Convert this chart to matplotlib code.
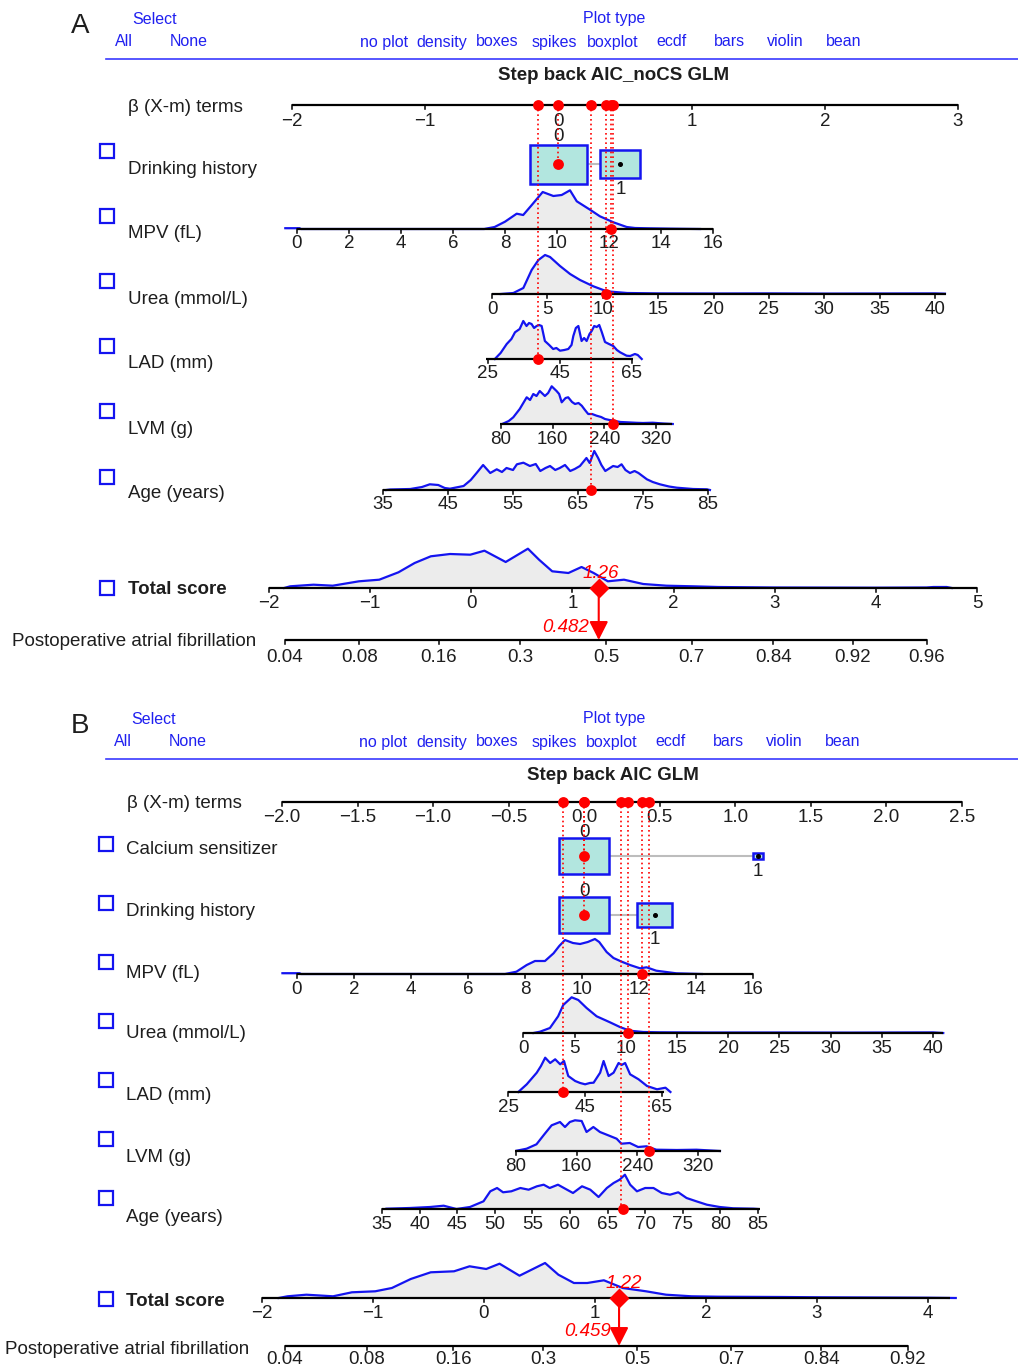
import numpy as np
import matplotlib
matplotlib.use('Agg')
import matplotlib.pyplot as plt
from matplotlib.patches import Rectangle

plt.rcParams['font.family'] = ['Liberation Sans', 'DejaVu Sans']

# ------------------------------------------------------------------ data
panel_letters = ['A', 'B']
titles = ['Step back AIC_noCS GLM', 'Step back AIC GLM']
select_opts = ['All', 'None']
plot_types = ['no plot', 'density', 'boxes', 'spikes', 'boxplot', 'ecdf', 'bars', 'violin', 'bean']
outcome = 'Postoperative atrial fibrillation'
beta_label = '\u03b2 (X-m) terms'

vars_a = ['Drinking history', 'MPV (fL)', 'Urea (mmol/L)', 'LAD (mm)', 'LVM (g)', 'Age (years)']
vars_b = ['Calcium sensitizer', 'Drinking history', 'MPV (fL)', 'Urea (mmol/L)', 'LAD (mm)', 'LVM (g)', 'Age (years)']

beta_ticks_a = [-2, -1, 0, 1, 2, 3]
beta_ticks_b = [-2.0, -1.5, -1.0, -0.5, 0.0, 0.5, 1.0, 1.5, 2.0, 2.5]
mpv_ticks = [0, 2, 4, 6, 8, 10, 12, 14, 16]
urea_ticks = [0, 5, 10, 15, 20, 25, 30, 35, 40]
lad_ticks = [25, 45, 65]
lvm_ticks = [80, 160, 240, 320]
age_ticks_a = [35, 45, 55, 65, 75, 85]
age_ticks_b = [35, 40, 45, 50, 55, 60, 65, 70, 75, 80, 85]
total_ticks_a = [-2, -1, 0, 1, 2, 3, 4, 5]
total_ticks_b = [-2, -1, 0, 1, 2, 3, 4]
prob_ticks_a = [0.04, 0.08, 0.16, 0.3, 0.5, 0.7, 0.84, 0.92, 0.96]
prob_ticks_b = [0.04, 0.08, 0.16, 0.3, 0.5, 0.7, 0.84, 0.92]

# beta (X-m) contributions of the selected patient
beta_a = {'Drinking history': 0.0, 'MPV (fL)': 0.398, 'Urea (mmol/L)': 0.360,
          'LAD (mm)': -0.150, 'LVM (g)': 0.413, 'Age (years)': 0.248}
beta_b = {'Calcium sensitizer': 0.0, 'Drinking history': 0.0, 'MPV (fL)': 0.382,
          'Urea (mmol/L)': 0.293, 'LAD (mm)': -0.141, 'LVM (g)': 0.430, 'Age (years)': 0.245}
# observed values
obs_a = {'MPV (fL)': 12.08, 'Urea (mmol/L)': 10.3, 'LAD (mm)': 38.9, 'LVM (g)': 253, 'Age (years)': 67.0}
obs_b = {'MPV (fL)': 12.11, 'Urea (mmol/L)': 10.2, 'LAD (mm)': 39.3, 'LVM (g)': 255, 'Age (years)': 67.0}
total_a, prob_a = 1.26, 0.482
total_b, prob_b = 1.22, 0.459

# categorical variables: beta of categories and frequencies
drink_beta_a = [0.0, 0.465]
drink_freq_a = [0.67, 0.33]
cs_beta_b = [0.0, 1.149]
cs_freq_b = [0.965, 0.035]
drink_beta_b = [0.0, 0.467]
drink_freq_b = [0.675, 0.325]

# densities (value, relative height)
mpv_a = [(-0.45, 0.8), (0.1, 0.8), (0.15, 0), (7.2, 0), (7.6, 2), (8.0, 7.3), (8.45, 15.3), (8.7, 14),
         (9.03, 24), (9.45, 37), (9.86, 33), (10.18, 34), (10.5, 38.7), (10.76, 27.7), (11.27, 19.3),
         (11.65, 12.7), (12.17, 6.7), (12.68, 2), (13.0, 1), (13.5, 0.7), (14.5, 0.3), (15.5, 0)]
urea_a = [(0.8, 0), (1.93, 1), (2.83, 6), (3.58, 24), (4.19, 34), (4.79, 39), (5.24, 37), (6.14, 28),
          (7.05, 20), (7.95, 14), (9.15, 7.7), (10.36, 2.7), (12.2, 1), (15, 0.6), (20, 0.5), (25, 0.6),
          (30, 0.4), (35, 0.5), (40, 0.6), (40.9, 0.3)]
lad_a = [(26.9, 0), (28.5, 6), (30.2, 15), (31.5, 20), (32.5, 26.7), (33.8, 30), (34.8, 38), (35.7, 33),
         (36.4, 36), (37.1, 35), (37.8, 31), (38.5, 33), (39.2, 34), (39.9, 33), (40.8, 18), (42, 14),
         (43.1, 10), (44, 11), (45, 8.3), (46.2, 9), (47.3, 10), (48.2, 14), (48.7, 23), (49.4, 31),
         (50.1, 33), (51, 18), (51.7, 21), (52.4, 18), (53.2, 25), (53.8, 28), (54.5, 33), (55.2, 32),
         (55.9, 34), (56.6, 27), (57.5, 17), (58.6, 15), (59.8, 13), (60.8, 9), (61.7, 6.7), (62.6, 5),
         (63.5, 3.3), (64.5, 3), (65.8, 5), (66.6, 4), (67.7, 0)]
lvm_a = [(83.6, 0.5), (92, 3), (99, 6.7), (109, 15), (119.8, 26.7), (125, 24), (130, 30), (135, 28),
         (140, 33), (148, 28), (153, 31), (158.5, 37.7), (166, 33), (170, 30), (174, 21.7), (180, 26),
         (184, 26.7), (190, 22), (194.6, 20), (200, 21), (205, 18.3), (210, 14), (215, 10), (221, 10),
         (228, 8.3), (235, 7), (241, 5), (248, 4), (254, 3.3), (265, 2), (275, 1.7), (290, 1.2),
         (300, 1), (315, 1.3), (331, 0.5), (346, 0)]
age_a = [(35.5, 0), (36.1, 0.5), (39.2, 1), (41, 3), (42.2, 5.7), (43.5, 5), (44.5, 2), (45.3, 1.3),
         (47.4, 4), (48.5, 10), (49.4, 17), (50.4, 25), (51.5, 17), (52.5, 20.7), (53.3, 18), (54, 22),
         (55, 20), (55.6, 25.7), (56.6, 27.3), (57.6, 24), (58.5, 26), (59.2, 19), (60, 22), (60.7, 24),
         (61.5, 20), (62.2, 22), (63, 25), (63.8, 19), (64.5, 21), (65.3, 24), (66.3, 32), (66.8, 27),
         (67.5, 39), (68.1, 32), (68.6, 25), (69.2, 19), (70.4, 24), (71.1, 23), (71.7, 25.7), (72.3, 20),
         (73, 17), (73.7, 19), (74.3, 17), (75.6, 10.7), (76.5, 8), (77.6, 5.7), (79, 3.5), (80.2, 2.3),
         (82.7, 1), (84.8, 0.7), (85.3, 0)]
total_dens_a = [(-1.85, 0), (-1.79, 1.7), (-1.56, 3.3), (-1.37, 2.3), (-1.11, 6.7), (-0.91, 8.3),
                (-0.72, 15.7), (-0.56, 25), (-0.40, 31.7), (-0.21, 34), (-0.01, 33.3), (0.13, 37.3),
                (0.34, 26), (0.56, 39.3), (0.67, 28.3), (0.80, 16.7), (0.96, 15), (1.09, 21), (1.21, 15),
                (1.35, 6.7), (1.51, 8.3), (1.70, 4), (1.93, 2.3), (2.19, 1.7), (2.44, 1), (3.0, 0.5),
                (4.0, 0.3), (4.5, 0.5), (4.57, 1), (4.7, 1), (4.75, 0)]

mpv_b = [(-0.5, 0.8), (0.1, 0.8), (0.15, 0), (7.3, 0), (7.7, 2.3), (8.06, 9), (8.35, 13), (8.7, 13),
         (9.0, 20.7), (9.2, 28), (9.4, 34), (9.68, 31), (9.93, 30), (10.2, 32), (10.45, 35), (10.6, 32),
         (10.86, 22), (11.1, 16), (11.39, 12.3), (11.68, 9), (12.03, 5.7), (12.26, 6.7), (12.6, 3.3),
         (13.3, 0.7), (13.8, 0.3), (14.2, 0)]
urea_b = [(1.0, 0), (1.63, 1.3), (2.6, 5), (3.4, 16.7), (3.9, 28), (4.72, 35.7), (5.37, 33), (6.18, 25),
          (7.16, 16.7), (8.46, 10.7), (9.43, 6), (10.4, 2.3), (11.7, 1), (13.3, 0.7), (18, 0.5),
          (25, 0.5), (32, 0.4), (40, 0.6), (41, 0)]
lad_b = [(27.6, 0), (29.8, 7.7), (32.4, 19.3), (33.5, 26), (34.6, 34.3), (35.9, 29), (37.2, 32.7),
         (38.5, 27.7), (39.5, 31), (40.6, 16), (42.4, 11), (43.7, 9), (45, 7.7), (46.2, 9), (47.2, 9.3),
         (48.9, 19.3), (49.8, 31), (51.1, 16), (52.4, 19.3), (53.7, 29), (54.5, 27), (55.4, 29),
         (56.7, 17.7), (58.9, 12.7), (61.1, 6), (63.7, 2.7), (65.9, 4.3), (67.2, 0)]
lvm_b = [(81, 0.3), (94, 2.3), (107, 6.7), (118, 17.3), (127, 25.7), (138, 29), (144.6, 24), (151, 29),
         (157.8, 30.7), (166.6, 30), (173, 19), (182, 24), (190.7, 19), (201.6, 15.7), (212.7, 12.3),
         (219, 7.3), (230, 8), (241, 4), (252, 4.7), (265, 1.3), (292, 1), (318, 1.3), (349, 0)]
age_b = [(35.6, 0.3), (38.7, 1), (41.4, 2), (43.2, 3.3), (44.9, 0), (46.7, 2), (48.5, 7.7), (49.4, 17.7),
         (50.3, 21), (51.1, 16.7), (52.2, 17.7), (53.4, 21), (54.5, 19.3), (55.6, 22.7), (56.5, 24.3),
         (57.3, 21), (58.4, 24.3), (59.6, 19.3), (60.4, 16), (61.6, 22.7), (62.7, 19.3), (63.8, 12),
         (64.9, 21), (65.8, 26), (66.6, 29.3), (67.3, 34.3), (68.0, 24.3), (68.9, 17.7), (70.0, 21),
         (71.1, 21), (72.2, 16), (73.3, 14.3), (74.4, 16.7), (75.5, 11), (76.8, 7.7), (78.2, 4.3),
         (79.9, 2), (81.7, 0.7), (84.4, 0.3), (85, 0)]
total_dens_b = [(-1.85, 0), (-1.77, 1.7), (-1.60, 3.3), (-1.36, 1.7), (-1.19, 5.7), (-0.98, 6.7),
                (-0.83, 10), (-0.66, 19), (-0.48, 25.7), (-0.27, 26.7), (-0.13, 31.7), (0.02, 29),
                (0.14, 34.3), (0.32, 22.3), (0.55, 35), (0.67, 23.3), (0.81, 15), (0.93, 15),
                (1.08, 17.7), (1.25, 10), (1.46, 6.7), (1.64, 3.3), (1.87, 1.7), (2.11, 1.3),
                (2.69, 1), (3.05, 0.7), (3.99, 0.3), (4.25, 0)]

# ------------------------------------------------------------------ figure
W, H = 1018, 1369
fig = plt.figure(figsize=(W / 100, H / 100), dpi=100)
TXT = '#1e1e1e'
BLUE = '#1414f0'
HDR = '#2020f0'
FS = 13.5

cv = fig.add_axes([0, 0, 1, 1], label='canvas')
cv.set_xlim(0, W)
cv.set_ylim(H, 0)
cv.axis('off')
cv.set_zorder(0)

_n = [0]


def overlay(baseline, anchors, logit=False, z=1):
    _n[0] += 1
    ax = fig.add_axes([0, 0, 1, 1], label='ov%d' % _n[0])
    ax.set_facecolor('none')
    ax.axis('off')
    ax.set_zorder(z)
    (v1, p1), (v2, p2) = anchors
    if logit:
        lg = lambda p: np.log(p / (1 - p))
        ex = lambda l: 1 / (1 + np.exp(-l))
        l1, l2 = lg(v1), lg(v2)
        s = (p2 - p1) / (l2 - l1)
        ax.set_xscale('logit')
        ax.set_xlim(ex(l1 - p1 / s), ex(l1 + (W - p1) / s))
    else:
        s = (p2 - p1) / (v2 - v1)
        ax.set_xlim(v1 - p1 / s, v1 + (W - p1) / s)
    ax.set_ylim(baseline - H, baseline)
    return ax, s


def fmt(v, dec=None):
    s = ('%.*f' % (dec, v)) if dec is not None else ('%g' % v)
    return s.replace('-', '\u2212')


def draw_axis(ax, ticks, line_range, dec=None, off=15):
    ax.plot(line_range, [0, 0], color='black', lw=1.6, zorder=4, solid_capstyle='butt')
    for t in ticks:
        ax.plot([t, t], [0, -4], color='black', lw=1.1, zorder=4)
        ax.text(t, -off, fmt(t, dec), ha='center', va='center', fontsize=FS, color=TXT, zorder=4)


def draw_density(ax, pts):
    xs = [p[0] for p in pts]
    hs = [p[1] for p in pts]
    ax.fill_between(xs, 0, hs, color='#ececec', lw=0, zorder=1)
    ax.plot(xs, hs, color=BLUE, lw=1.6, zorder=2)


def red_dot(ax, x, y=0):
    ax.plot([x], [y], 'o', color='red', ms=7.8, mec='none', zorder=8)


def checkbox(cx, cy):
    cv.add_patch(Rectangle((cx - 7, cy - 7), 14, 14, fill=False, ec=BLUE, lw=1.6))


def draw_cat(ax, s, betas, freqs, wmax, hmax, lab_top_gap=7, lab_bot_gap=11):
    fmax = max(freqs)
    dims = []
    for b, f in zip(betas, freqs):
        k = np.sqrt(f / fmax)
        dims.append((wmax * k / s, hmax * k))
    (w0, h0), (w1, h1) = dims
    ax.plot([betas[0] + w0 / 2, betas[1] - w1 / 2], [0, 0], color='#bdbdbd', lw=1.5, zorder=1)
    for b, (w, h) in zip(betas, dims):
        ax.add_patch(Rectangle((b - w / 2, -h / 2), w, h, fc='#b2e6df', ec=BLUE, lw=1.8, zorder=2))
    ax.text(betas[0], h0 / 2 + lab_top_gap, '0', ha='center', va='center', fontsize=FS, color=TXT, zorder=3)
    ax.text(betas[1], -h1 / 2 - lab_bot_gap, '1', ha='center', va='center', fontsize=FS, color=TXT, zorder=3)
    ax.plot([betas[1]], [0], 'o', color='black', ms=2.6, zorder=3)
    red_dot(ax, betas[0])


def header(y0, letter, opt_x, title, title_xy):
    cv.text(80, y0 + 7, letter, fontsize=20, ha='center', va='center', color=TXT)
    cv.text(opt_x[0] + 31, y0, 'Select', fontsize=11.5, ha='center', va='center', color=HDR)
    cv.text(opt_x[0], y0 + 23, select_opts[0], fontsize=11.5, ha='center', va='center', color=HDR)
    cv.text(opt_x[0] + 65, y0 + 23, select_opts[1], fontsize=11.5, ha='center', va='center', color=HDR)
    cv.text(614, y0, 'Plot type', fontsize=11.5, ha='center', va='center', color=HDR)
    for lab, x in zip(plot_types, opt_x[1:]):
        cv.text(x, y0 + 23, lab, fontsize=11.5, ha='center', va='center', color=HDR)
    cv.plot([106, 1018], [y0 + 40, y0 + 40], color='#3a3aff', lw=1.2)
    cv.text(title_xy[0], title_xy[1], title, fontsize=FS, fontweight='bold', ha='center', va='center', color=TXT)


# ================================================================ Panel A
header(19, panel_letters[0], [124, 384, 442, 497, 554, 613, 672, 729, 785, 844], titles[0], (614, 76))

beta_base_a = 105
cv.text(128, 107, beta_label, fontsize=FS, ha='left', va='center', color=TXT)
lab_y_a = [169, 234, 299, 364, 429, 494]
box_y_a = [151, 216, 281, 346, 411, 477]
for name, ly, by in zip(vars_a, lab_y_a, box_y_a):
    cv.text(128, ly, name, fontsize=FS, ha='left', va='center', color=TXT)
    checkbox(107, by)

beta_anch_a = ((-2, 292), (3, 958))
axd, sd = overlay(164, beta_anch_a)
draw_cat(axd, sd, drink_beta_a, drink_freq_a, 57, 39, lab_top_gap=8, lab_bot_gap=12)

rows_a = [
    ('MPV (fL)', 229, ((0, 297), (16, 713)), mpv_ticks, (0, 16), mpv_a),
    ('Urea (mmol/L)', 294, ((0, 492), (40, 935)), urea_ticks, (0, 41), urea_a),
    ('LAD (mm)', 359, ((25, 488), (65, 632)), lad_ticks, (24.5, 65.3), lad_a),
    ('LVM (g)', 424, ((80, 501), (320, 656)), lvm_ticks, (78, 345), lvm_a),
    ('Age (years)', 490, ((35, 383), (85, 708)), age_ticks_a, (35, 85), age_a),
]
row_base_a = {'Drinking history': 164}
for name, base, anch, ticks, rng, dens in rows_a:
    ax, _ = overlay(base, anch)
    draw_density(ax, dens)
    draw_axis(ax, ticks, rng, off=15)
    red_dot(ax, obs_a[name])
    row_base_a[name] = base

axt, _ = overlay(588, ((-2, 269), (5, 977)))
draw_density(axt, total_dens_a)
draw_axis(axt, total_ticks_a, (-2, 5), off=15.5)
axt.plot([total_a], [0], marker='D', ms=10, color='red', mec='none', zorder=8)
axt.text(total_a + 0.02, 15, '%.2f' % total_a, color='red', style='italic', fontsize=FS,
         ha='center', va='center', zorder=8)
cv.text(128, 589, 'Total score', fontsize=FS, fontweight='bold', ha='left', va='center', color=TXT)
checkbox(107, 588)

axp, _ = overlay(640, ((0.04, 285), (0.96, 927)), logit=True)
draw_axis(axp, prob_ticks_a, (0.04, 0.96), off=17)
axp.annotate('', xy=(prob_a, 0), xytext=(prob_a, 640 - 588),
             arrowprops=dict(arrowstyle='-|>,head_length=0.75,head_width=0.38', color='red', lw=1.5,
                             shrinkA=0, shrinkB=0, mutation_scale=15), zorder=7)
axp.annotate('%.3f' % prob_a, xy=(prob_a, 12), xytext=(-7, 0), textcoords='offset points',
             color='red', style='italic', fontsize=FS, ha='right', va='center')
cv.text(12, 641, outcome, fontsize=FS, ha='left', va='center', color=TXT)

axb, _ = overlay(beta_base_a, beta_anch_a, z=5)
draw_axis(axb, beta_ticks_a, (-2, 3), off=16.5)
for name in vars_a:
    b = beta_a[name]
    axb.plot([b, b], [0, beta_base_a - row_base_a[name]], color='red', lw=1.2,
             ls=(0, (1, 1.8)), zorder=6)
    red_dot(axb, b)

# ================================================================ Panel B
header(719, panel_letters[1], [123, 383, 442, 497, 554, 612, 671, 728, 784, 843], titles[1], (613, 776))

beta_base_b = 802
cv.text(127, 803, beta_label, fontsize=FS, ha='left', va='center', color=TXT)
lab_y_b = [850, 911, 973, 1034, 1095, 1157, 1218]
box_y_b = [844, 903, 962, 1021, 1080, 1139, 1198]
for name, ly, by in zip(vars_b, lab_y_b, box_y_b):
    cv.text(126, ly, name, fontsize=FS, ha='left', va='center', color=TXT)
    checkbox(106, by)

beta_anch_b = ((-2.0, 282), (2.5, 962))
row_base_b = {'Calcium sensitizer': 856, 'Drinking history': 915}
axc, sc = overlay(856, beta_anch_b)
draw_cat(axc, sc, cs_beta_b, cs_freq_b, 50, 36, lab_top_gap=5.5, lab_bot_gap=12)
axd2, sd2 = overlay(915, beta_anch_b)
draw_cat(axd2, sd2, drink_beta_b, drink_freq_b, 50, 36, lab_top_gap=6, lab_bot_gap=12)

rows_b = [
    ('MPV (fL)', 974, ((0, 296.7), (16, 753.3)), mpv_ticks, (0, 16), mpv_b),
    ('Urea (mmol/L)', 1033, ((0, 523.3), (40, 933)), urea_ticks, (0, 41), urea_b),
    ('LAD (mm)', 1092, ((25, 508.3), (65, 662)), lad_ticks, (25, 65.4), lad_b),
    ('LVM (g)', 1151, ((80, 516), (320, 698)), lvm_ticks, (78.7, 350), lvm_b),
    ('Age (years)', 1209, ((35, 382), (85, 758)), age_ticks_b, (35, 85.3), age_b),
]
for name, base, anch, ticks, rng, dens in rows_b:
    ax, _ = overlay(base, anch)
    draw_density(ax, dens)
    draw_axis(ax, ticks, rng, off=15.5)
    red_dot(ax, obs_b[name])
    row_base_b[name] = base

axt2, _ = overlay(1298, ((-2, 262), (4, 928)))
draw_density(axt2, total_dens_b)
draw_axis(axt2, total_ticks_b, (-2, 4.2), off=15.5)
axt2.plot([total_b], [0], marker='D', ms=10, color='red', mec='none', zorder=8)
axt2.text(total_b + 0.04, 14, '%.2f' % total_b, color='red', style='italic', fontsize=FS,
          ha='center', va='center', zorder=8)
cv.text(126, 1301, 'Total score', fontsize=FS, fontweight='bold', ha='left', va='center', color=TXT)
checkbox(106, 1299)

prob_base_b = 1346
axp2, _ = overlay(prob_base_b, ((0.04, 285), (0.92, 908)), logit=True)
draw_axis(axp2, prob_ticks_b, (0.04, 0.92), off=14)
axp2.annotate('', xy=(prob_b, 0), xytext=(prob_b, prob_base_b - 1298),
              arrowprops=dict(arrowstyle='-|>,head_length=0.75,head_width=0.38', color='red', lw=1.5,
                              shrinkA=0, shrinkB=0, mutation_scale=15), zorder=7)
axp2.annotate('%.3f' % prob_b, xy=(prob_b, 14), xytext=(-6, 0), textcoords='offset points',
              color='red', style='italic', fontsize=FS, ha='right', va='center')
cv.text(5, 1349, outcome, fontsize=FS, ha='left', va='center', color=TXT)

axb2, _ = overlay(beta_base_b, beta_anch_b, z=5)
draw_axis(axb2, beta_ticks_b, (-2.0, 2.5), dec=1, off=15)
for name in vars_b:
    b = beta_b[name]
    axb2.plot([b, b], [0, beta_base_b - row_base_b[name]], color='red', lw=1.2,
              ls=(0, (1, 1.8)), zorder=6)
    red_dot(axb2, b)

fig.savefig('out.png', dpi=100)
